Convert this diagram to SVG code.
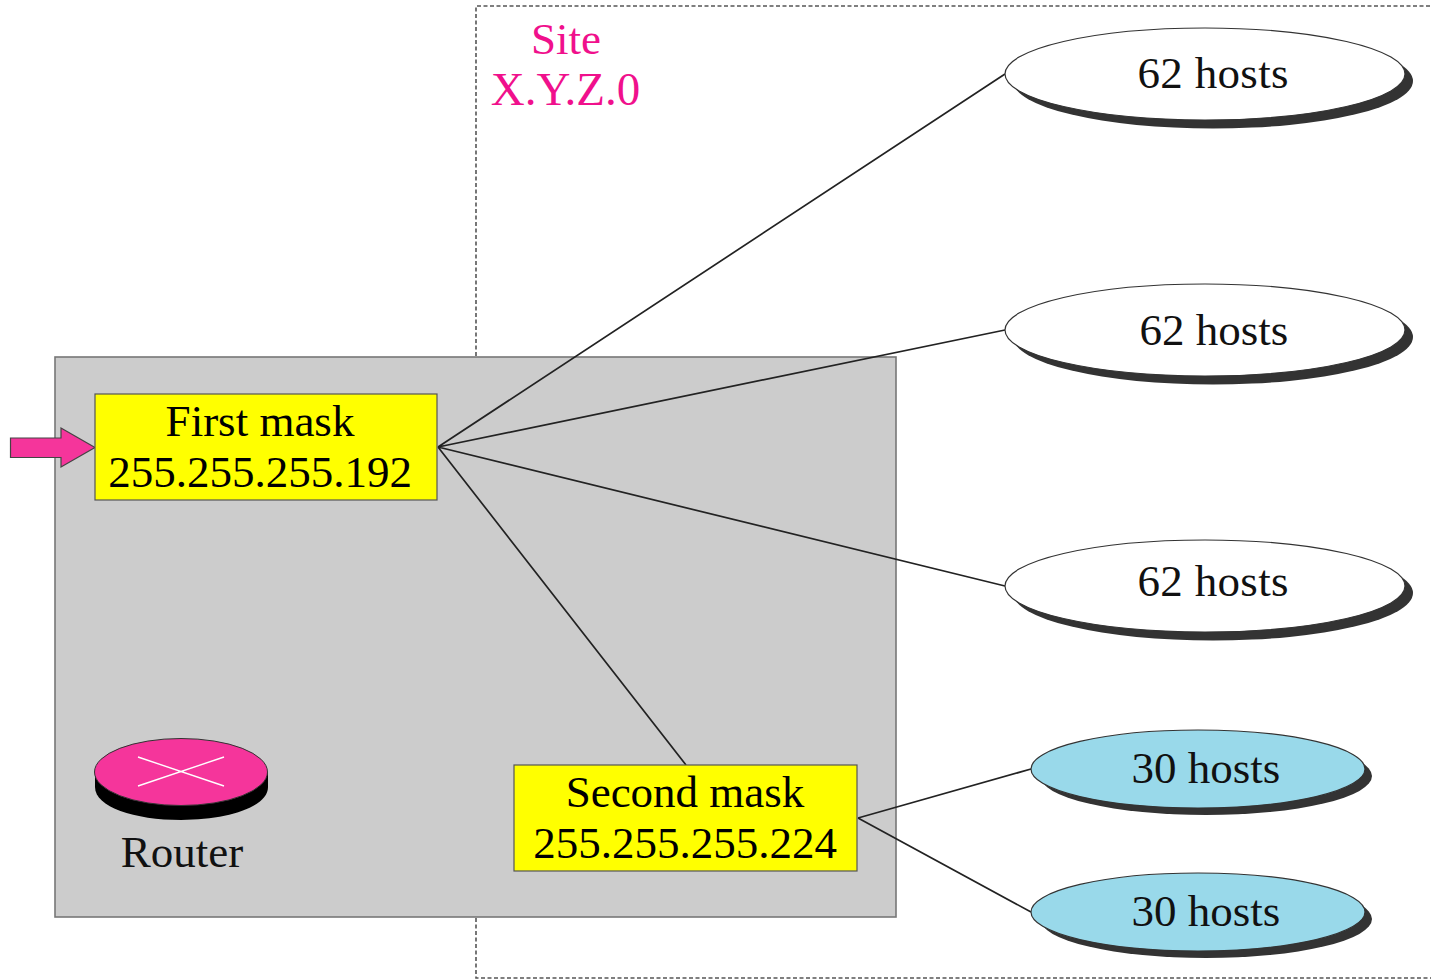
<svg xmlns="http://www.w3.org/2000/svg" width="1431" height="980" viewBox="0 0 1431 980">
<style>
text{font-family:"Liberation Serif","Times New Roman",serif;text-anchor:middle;fill:#000}
.m{font-size:45px}
.h{font-size:45px;fill:#111}
.s{font-size:45px;fill:#f0108c}
.box{fill:#ff0;stroke:#555;stroke-width:1.2}
.shadow{fill:#333}
.w{fill:#fff;stroke:#333;stroke-width:1.2}
.b{fill:#99d9ea;stroke:#333;stroke-width:1.2}
.link{stroke:#222;stroke-width:1.7;fill:none}
</style>
<rect width="1431" height="980" fill="#fff"/>
<path id="site" d="M476 356V6H1431M476 918V978H1431" fill="none" stroke="#555" stroke-width="1.6" stroke-dasharray="4 2.5"/>
<g id="site-label"><text class="s" x="566" y="54">Site</text><text class="s" x="565.500" y="105" font-size="47" style="font-size:47px">X.Y.Z.0</text></g>
<rect id="router-area" x="55" y="357" width="841" height="560" fill="#ccc" stroke="#777" stroke-width="1.6"/>
<g id="connectors">
<path class="link" d="M438 447L1005 74M438 447L1005 330M438 447L1005 586M438 447L686 765M858 818L1031 769M858 818L1031 912"/>
</g>
<path id="in-arrow" d="M10.500 438H61V428L95 447.500L61 467V457.500H10.500Z" fill="#f5359b" stroke="#444" stroke-width="1.2"/>
<g id="first-mask"><rect class="box" x="95" y="394" width="342" height="106"/><text class="m" x="260" y="436">First mask</text><text class="m" x="260" y="487">255.255.255.192</text></g>
<g id="second-mask"><rect class="box" x="514" y="765" width="343" height="106"/><text class="m" x="685" y="807">Second mask</text><text class="m" x="685" y="858">255.255.255.224</text></g>
<g id="router">
<path d="M95 772V787C95 807 134 820 181 820S268 807 268 787V772Z" fill="#000"/>
<ellipse cx="181" cy="772" rx="86.500" ry="33.500" fill="#f5359b" stroke="#333" stroke-width="1"/>
<path d="M138 757L224 786M224 757L138 786" stroke="#fff" stroke-width="1.400" fill="none"/>
<text class="h" x="182" y="867">Router</text>
</g>
<g id="hosts-1"><ellipse class="shadow" cx="1213" cy="81" rx="200" ry="47.500"/><ellipse class="w" cx="1205" cy="74" rx="200" ry="46"/><text class="h" x="1213" y="88" textLength="151" lengthAdjust="spacing">62 hosts</text></g>
<g id="hosts-2"><ellipse class="shadow" cx="1213" cy="337" rx="200" ry="47.500"/><ellipse class="w" cx="1205" cy="330" rx="200" ry="46"/><text class="h" x="1214" y="345">62 hosts</text></g>
<g id="hosts-3"><ellipse class="shadow" cx="1213" cy="593" rx="200" ry="47.500"/><ellipse class="w" cx="1205" cy="586" rx="200" ry="46"/><text class="h" x="1213" y="596" textLength="151" lengthAdjust="spacing">62 hosts</text></g>
<g id="hosts-4"><ellipse class="shadow" cx="1206" cy="776" rx="166" ry="39"/><ellipse class="b" cx="1198" cy="769" rx="167" ry="39"/><text class="h" x="1206" y="783">30 hosts</text></g>
<g id="hosts-5"><ellipse class="shadow" cx="1206" cy="919" rx="166" ry="39"/><ellipse class="b" cx="1198" cy="912" rx="167" ry="39"/><text class="h" x="1206" y="926">30 hosts</text></g>
</svg>
